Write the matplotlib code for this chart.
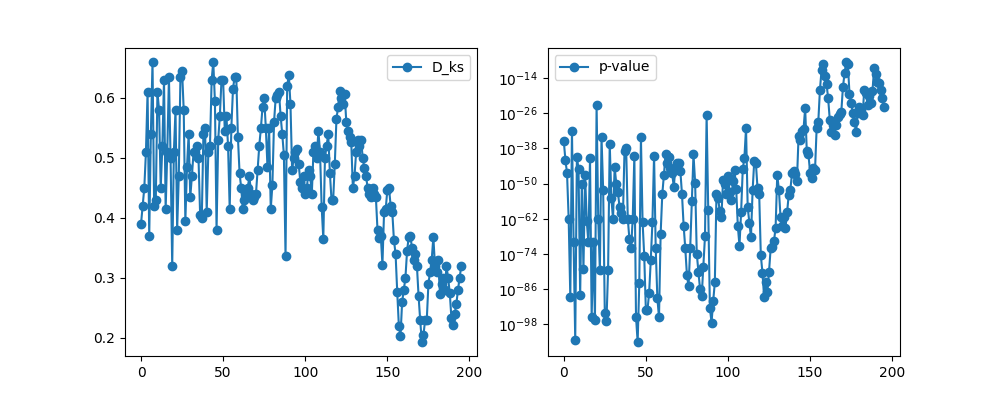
import matplotlib
matplotlib.use("Agg")
import matplotlib.pyplot as plt
import numpy as np

# KS statistic per sample
d_ks = [
    0.39, 0.42, 0.45, 0.51, 0.61, 0.37, 0.54, 0.66, 0.42, 0.43,
    0.61, 0.58, 0.45, 0.52, 0.63, 0.415, 0.51, 0.635, 0.50, 0.32,
    0.51, 0.58, 0.38, 0.47, 0.635, 0.645, 0.58, 0.395, 0.485, 0.54,
    0.435, 0.47, 0.51, 0.51, 0.52, 0.50, 0.405, 0.40, 0.54, 0.55,
    0.41, 0.51, 0.52, 0.63, 0.66, 0.595, 0.38, 0.53, 0.57, 0.63,
    0.63, 0.545, 0.57, 0.52, 0.415, 0.55, 0.615, 0.635, 0.635, 0.535,
    0.475, 0.45, 0.415, 0.43, 0.44, 0.45, 0.47, 0.44, 0.43, 0.435,
    0.44, 0.48, 0.52, 0.55, 0.585, 0.60, 0.55, 0.485, 0.55, 0.415,
    0.455, 0.56, 0.60, 0.605, 0.61, 0.57, 0.54, 0.505, 0.336, 0.62,
    0.638, 0.59, 0.48, 0.50, 0.51, 0.515, 0.49, 0.46, 0.45, 0.47,
    0.44, 0.45, 0.48, 0.47, 0.44, 0.51, 0.52, 0.50, 0.545, 0.51,
    0.418, 0.365, 0.50, 0.52, 0.54, 0.475, 0.43, 0.43, 0.49, 0.565,
    0.585, 0.612, 0.60, 0.59, 0.607, 0.56, 0.545, 0.535, 0.527, 0.45,
    0.47, 0.51, 0.53, 0.52, 0.53, 0.50, 0.483, 0.47, 0.45, 0.44,
    0.435, 0.45, 0.44, 0.435, 0.38, 0.367, 0.37, 0.322, 0.41, 0.415,
    0.447, 0.45, 0.42, 0.41, 0.363, 0.34, 0.277, 0.22, 0.203, 0.26,
    0.28, 0.30, 0.345, 0.368, 0.37, 0.35, 0.33, 0.34, 0.32, 0.27,
    0.229, 0.193, 0.205, 0.23, 0.23, 0.29, 0.31, 0.33, 0.368, 0.32,
    0.31, 0.33, 0.273, 0.29, 0.30, 0.28, 0.32, 0.30, 0.275, 0.233,
    0.222, 0.24, 0.256, 0.28, 0.30, 0.32,
]

# log10 of the p-value per sample
p_log10 = [
    -35.3, -41.8, -46.4, -61.9, -88.6, -32, -70, -103.4, -40.8, -45,
    -88, -50, -79, -47, -62.7, -70, -41.4, -95.4, -70, -96.4,
    -23.3, -62, -79.6, -34.2, -52, -94.2, -97, -79.6, -36.3, -55,
    -62, -44.4, -50, -53, -58, -60, -62, -38.8, -37.7, -62,
    -69, -72, -62, -40.4, -95.4, -104, -84, -34.2, -63, -74.5,
    -93, -93, -87.2, -76, -63.2, -40.4, -72, -89, -95.6, -67.1,
    -53.6, -47, -39.8, -43, -41, -44.7, -46.5, -51, -44.7, -43,
    -43, -45.6, -53.6, -64.3, -72, -81.1, -85, -72, -56, -40,
    -49.6, -73.9, -80, -86, -88.4, -78.5, -68, -26.6, -59, -92.4,
    -97.4, -90, -83.7, -53.4, -55,
    -59.4, -61.4, -48.8, -50, -53.4, -47.3, -52.9, -55.7, -49, -45.5,
    -51.7, -64.5, -71.1, -59.8, -45, -41.2, -31, -58, -63.3, -68.3,
    -52.3, -42.3, -43, -51.6, -53.4, -74.4, -80.4, -88.6, -83.6, -87,
    -80, -72, -71.5, -69.7, -65, -47, -52, -61.4, -64.4, -61.4,
    -65, -59.8, -53.7, -52, -46.4, -45.6, -46.7, -49, -33.6, -35,
    -32, -31.4, -24.3, -39, -40, -46.2, -48.2, -44.8, -45.4, -31,
    -28.9, -17.9, -11.2, -9.3, -13.2, -15.9, -20.9, -28.3, -32.3, -30,
    -33.3, -30, -27.3, -26.2, -25.6, -17, -12.4, -8.5, -9.3, -19.3,
    -22.5, -25.8, -29, -32.4, -25.8, -24, -25, -26.5, -17.9, -19,
    -23, -20, -22.5, -18.3, -10.6, -12.7, -15.3, -15.6, -18, -20.9,
    -24,
]

x = np.arange(len(d_ks))
p_value = 10.0 ** np.array(p_log10)

fig, (ax1, ax2) = plt.subplots(1, 2, figsize=(10, 4), dpi=100)

ax1.plot(x, d_ks, 'o-', label='D_ks')
ax1.legend(loc='upper right')

ax2.plot(np.arange(len(p_value)), p_value, 'o-', label='p-value')
ax2.set_yscale('log')
ax2.set_yticks([10.0 ** k for k in range(-98, -13, 12)])
ax2.legend(loc='upper left')

fig.savefig('out.png')
